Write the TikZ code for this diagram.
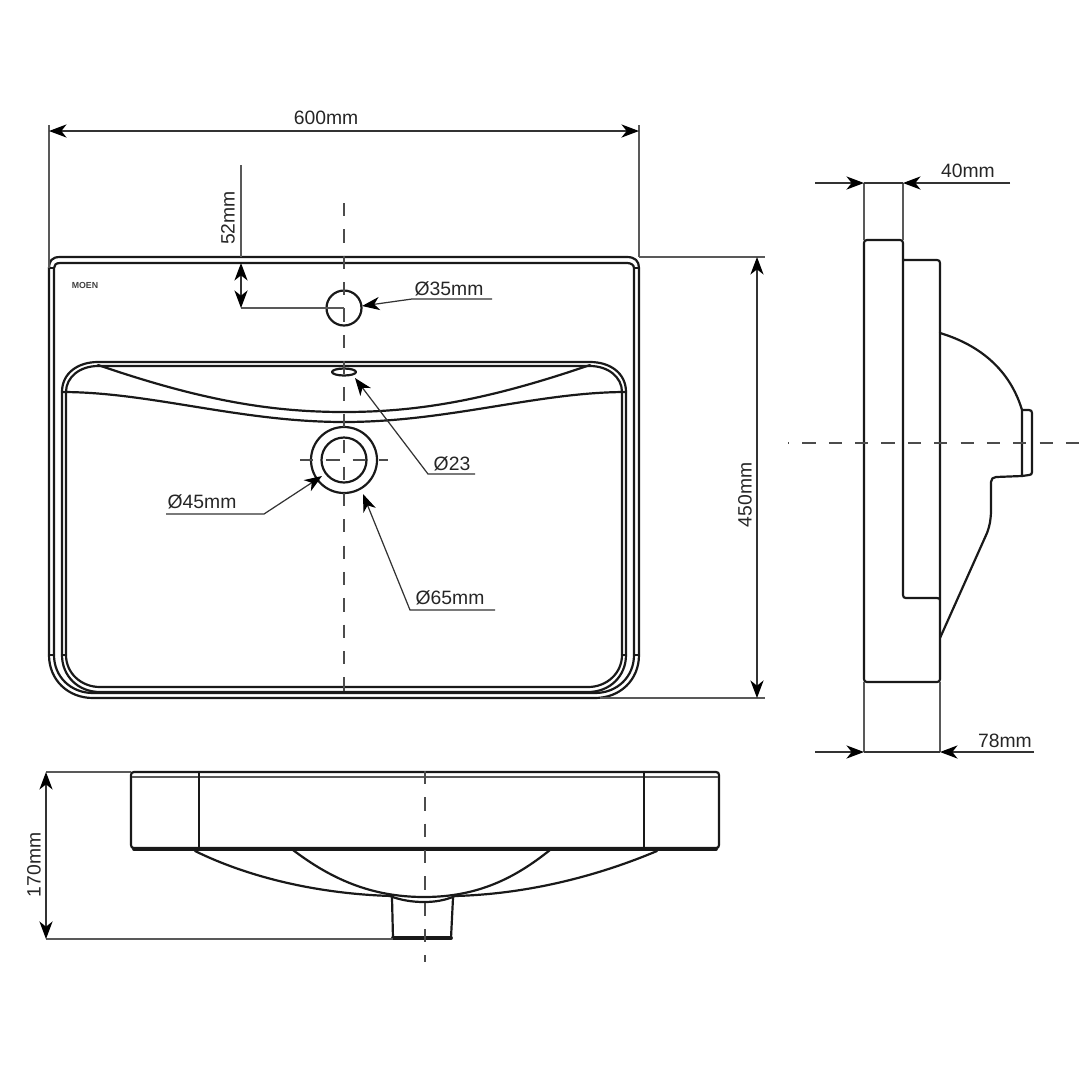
\documentclass[tikz,border=0pt]{standalone}
\usepackage{fontspec}
\setmainfont{Liberation Sans}
\usetikzlibrary{arrows.meta}
\tikzset{
  outline/.style={line width=1.25pt,black!90,line cap=round,line join=round},
  heavy/.style={line width=2.2pt,black!90,line cap=round},
  extline/.style={line width=0.7pt,black!65},
  dimline/.style={line width=0.7pt,black!80,>={Stealth[length=10pt,width=7.5pt,inset=3pt,black]}},
  centerline/.style={line width=0.95pt,black!70,dash pattern=on 7.5pt off 7.5pt},
  dimtext/.style={font=\fontsize{11}{13}\selectfont,text=black!85,inner sep=0pt}
}
\begin{document}
\begin{tikzpicture}[x=0.02cm,y=-0.02cm]
\useasboundingbox (0,0) rectangle (1090,1090);
% top view
\draw[outline] (49,268) .. controls (49,261) and (52,257) .. (60,257) -- (627,257) .. controls (635,257) and (639,261) .. (639,268) -- (639,655) .. controls (639,680) and (620,698) .. (595,698) -- (93,698) .. controls (68,698) and (49,680) .. (49,655) -- cycle;
\draw[outline] (54,268) .. controls (54,265) and (56,263) .. (60,263) -- (627,263) .. controls (631,263) and (634,265) .. (634,268) -- (634,655) .. controls (634,677) and (617,693) .. (595,693) -- (93,693) .. controls (71,693) and (54,677) .. (54,655) -- cycle;
\draw[outline] (49,268) -- (54,268) (634,268) -- (639,268) (49,655) -- (54,655) (634,655) -- (639,655);
% basin
\draw[outline] (62,392) .. controls (62,373) and (78,362) .. (98,362) -- (590,362) .. controls (610,362) and (626,373) .. (626,392) -- (626,655) .. controls (626,676) and (610,692) .. (588,692) -- (100,692) .. controls (78,692) and (62,676) .. (62,655) -- cycle;
\draw[outline] (66,392) .. controls (66,377) and (80,366) .. (98,366) -- (590,366) .. controls (608,366) and (622,377) .. (622,392) -- (622,655) .. controls (622,673) and (607,687) .. (588,687) -- (100,687) .. controls (81,687) and (66,673) .. (66,655) -- cycle;
\draw[outline] (62,655) -- (66,655) (622,655) -- (626,655) (62,392) -- (66,392) (622,392) -- (626,392);
\draw[outline] (98,365) .. controls (200,400) and (270,412) .. (344,412) .. controls (418,412) and (488,400) .. (590,365);
\draw[outline] (62,392) .. controls (150,392) and (240,422) .. (344,422) .. controls (448,422) and (538,392) .. (626,392);
\node[font=\fontsize{5}{6}\selectfont\bfseries,text=black!75,inner sep=0pt] (brand) at (85,285) {MOEN};
\draw[outline] (344,308) circle (17.5);
\draw[outline] (344,372) ellipse (12 and 3.5);
\draw[outline] (344,460) circle (33);
\draw[outline] (344,460) circle (22.5);
\draw[centerline] (344,203) -- (344,698);
\draw[centerline] (300,460) -- (388,460);
% 600mm
\coordinate (wl) at (49,131);
\coordinate (wr) at (639,131);
\draw[extline] (49,125) -- (49,268);
\draw[extline] (639,125) -- (639,257);
\draw[dimline,<->] (wl) -- (wr);
\node[dimtext] (wtxt) at (326,118) {600mm};
% 52mm
\coordinate (ha) at (241,263);
\coordinate (hb) at (241,308);
\draw[extline] (241,165) -- (241,257);
\draw[extline] (hb) -- (344,308);
\draw[dimline,<->] (ha) -- (hb);
\node[dimtext,rotate=90] (htxt) at (228,218) {52mm};
% 35mm
\node[dimtext] (ta) at (449,289) {Ø35mm};
\coordinate (ua) at (412,299);
\coordinate (va) at (492,299);
\coordinate (ka) at (362,306);
\draw[dimline,->] (va) -- (ua) -- (ka);
% 23
\node[dimtext] (tb) at (452,464) {Ø23};
\coordinate (ub) at (428,474);
\coordinate (vb) at (475,474);
\coordinate (kb) at (355,378);
\draw[dimline,->] (vb) -- (ub) -- (kb);
% 65mm
\node[dimtext] (tc) at (450,598) {Ø65mm};
\coordinate (uc) at (410,610);
\coordinate (vc) at (495,610);
\coordinate (kc) at (363,494);
\draw[dimline,->] (vc) -- (uc) -- (kc);
% 45mm
\node[dimtext] (td) at (202,502) {Ø45mm};
\coordinate (ud) at (264,514);
\coordinate (vd) at (166,514);
\coordinate (kd) at (322,476);
\draw[dimline,->] (vd) -- (ud) -- (kd);
% 450mm
\coordinate (dt) at (757,257);
\coordinate (db) at (757,698);
\draw[extline] (639,257) -- (765,257);
\draw[extline] (600,698) -- (765,698);
\draw[dimline,<->] (dt) -- (db);
\node[dimtext,rotate=90] (dtxt) at (745,495) {450mm};
% side view
\draw[outline] (903,260) -- (903,243) .. controls (903,241) and (902,240) .. (900,240) -- (867,240) .. controls (865,240) and (864,241) .. (864,243) -- (864,679) .. controls (864,681) and (865,682) .. (867,682) -- (937,682) .. controls (939,682) and (940,681) .. (940,679) -- (940,263) .. controls (940,261) and (939,260) .. (937,260) -- (903,260) -- (903,595) .. controls (903,597) and (904,598) .. (906,598) -- (937,598) .. controls (939,598) and (940,599) .. (940,600);
\draw[outline] (940,333) .. controls (980,345) and (1010,370) .. (1022,410) -- (1022,476);
\draw[outline] (1022,410) -- (1029,410) .. controls (1031,410) and (1032,411) .. (1032,413) -- (1032,472) .. controls (1032,474) and (1031,475) .. (1029,475) -- (1022,476) -- (996,477) .. controls (993,477) and (991,479) .. (991,482) -- (991,510) .. controls (991,518) and (990,525) .. (987,533) -- (940,638);
\draw[centerline,dash phase=6.8pt] (788,443) -- (1090,443);
% 40mm
\coordinate (sa) at (864,183);
\coordinate (sb) at (903,183);
\coordinate (sc) at (815,183);
\coordinate (sd) at (1010,183);
\draw[extline] (sa) -- (864,240) (sb) -- (903,240);
\draw[dimline] (sa) -- (sb);
\draw[dimline,->] (sc) -- (sa);
\draw[dimline,->] (sd) -- (sb);
\node[dimtext] (stxt) at (968,171) {40mm};
% 78mm
\coordinate (ra) at (864,752);
\coordinate (rb) at (940,752);
\coordinate (rc) at (815,752);
\coordinate (rd) at (1034,752);
\draw[extline] (ra) -- (864,682) (rb) -- (940,682);
\draw[dimline] (ra) -- (rb);
\draw[dimline,->] (rc) -- (ra);
\draw[dimline,->] (rd) -- (rb);
\node[dimtext] (rtxt) at (1005,741) {78mm};
% front view
\draw[outline] (134,772) -- (716,772) .. controls (718,772) and (719,773) .. (719,775) -- (719,845) .. controls (719,847) and (718,848) .. (716,848) -- (134,848) .. controls (132,848) and (131,847) .. (131,845) -- (131,775) .. controls (131,773) and (132,772) .. (134,772);
\draw[line width=1.25pt,black!65] (132,777) -- (718,777);
\draw[heavy] (134,849) -- (716,849);
\draw[outline] (199,772) -- (199,848) (644,772) -- (644,848);
\draw[outline] (195,851) .. controls (250,878) and (320,894) .. (392,896);
\draw[outline] (657,851) .. controls (600,875) and (530,894) .. (455,896);
\draw[outline] (293,850) .. controls (330,878) and (370,897) .. (424,897) .. controls (478,897) and (515,878) .. (550,850);
\draw[outline] (390,896) .. controls (400,900) and (412,902) .. (424,902) .. controls (436,902) and (446,900) .. (455,896);
\draw[outline] (392,898) -- (393,938) (453,898) -- (451,938);
\draw[heavy] (393,938) -- (451,938);
\draw[centerline] (425,771) -- (425,962);
% 170mm
\coordinate (fa) at (46,772);
\coordinate (fb) at (46,939);
\draw[extline] (fa) -- (131,772);
\draw[extline] (fb) -- (393,939);
\draw[dimline,<->] (fa) -- (fb);
\node[dimtext,rotate=90] (ftxt) at (34,865) {170mm};
\end{tikzpicture}
\end{document}
